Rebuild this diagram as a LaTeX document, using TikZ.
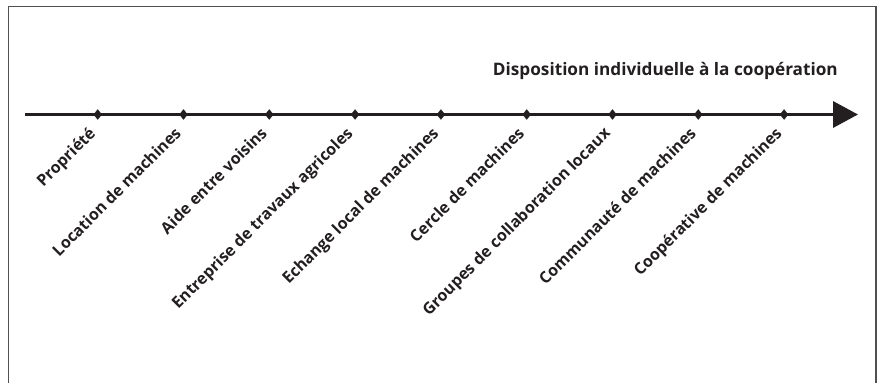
\documentclass[tikz,border=0pt]{standalone}
\usepackage{fontspec}
\setmainfont{Open Sans}
\usetikzlibrary{shapes.geometric,arrows.meta,positioning}
\definecolor{axisblack}{HTML}{231F20}
\definecolor{framegray}{HTML}{505050}

\begin{document}
\begin{tikzpicture}[x=1pt, y=-1pt,
  stop/.style = {draw=axisblack, fill=axisblack, diamond, inner sep=0pt, minimum width=8pt, minimum height=10pt},
  lbl/.style = {anchor=north east, rotate=45, inner sep=0pt, text=axisblack, font=\bfseries\fontsize{16}{19}\selectfont}]
\useasboundingbox (0,0) rectangle (882,383);
% frame, open at the bottom
\draw[framegray, line width=1.5pt] (8.5,383) -- (8.5,6.5) -- (876,6.5) -- (876,383);
% axis
\coordinate (start) at (25,114.5);
\coordinate (end) at (858,114.5);
\draw[axisblack, line width=3.5pt, -{Triangle[length=25pt,width=26pt]}] (start) -- (end);
\node[anchor=base east, inner sep=0pt, text=axisblack, font=\bfseries\fontsize{17.2}{20}\selectfont] (title) at (838,75) {Disposition individuelle à la coopération};
% stops and their labels
\foreach \i/\txt in {0/Propriété, 1/Location de machines, 2/Aide entre voisins,
  3/Entreprise de travaux agricoles, 4/Echange local de machines, 5/Cercle de machines,
  6/Groupes de collaboration locaux, 7/Communauté de machines, 8/Coopérative de machines} {
  \node[stop] (d\i) at (97.7+85.8*\i, 114.5) {};
  \node[lbl] (t\i) at ([xshift=-10pt, yshift=-11pt]d\i.center) {\txt};
}
\end{tikzpicture}
\end{document}
